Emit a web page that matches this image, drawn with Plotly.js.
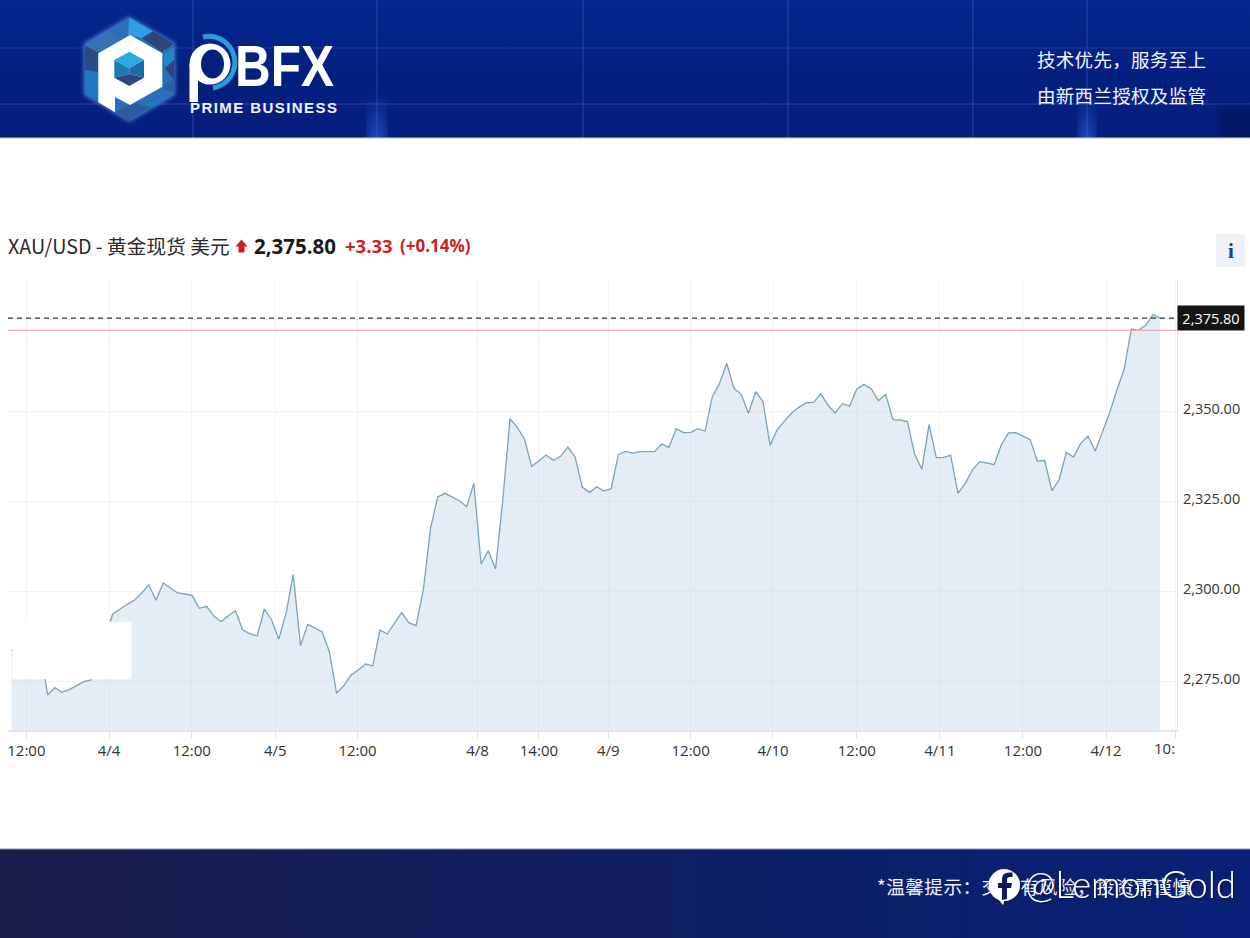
<!DOCTYPE html>
<html>
<head>
<meta charset="utf-8">
<script src="https://cdn.plot.ly/plotly-3.0.1.min.js"></script>
<style>
html, body { margin: 0; padding: 0; background: #fff; }
#page { position: relative; width: 1250px; height: 938px; overflow: hidden; }
#art, #chart { position: absolute; left: 0; top: 0; width: 1250px; height: 938px; }
</style>
</head>
<body>
<div id="page">
<svg id="art" width="1250" height="938" viewBox="0 0 1250 938">
  <defs>
    <linearGradient id="bannerBg" x1="0" y1="0" x2="0" y2="1">
      <stop offset="0" stop-color="#05268f"/>
      <stop offset="0.55" stop-color="#03207f"/>
      <stop offset="1" stop-color="#061f7f"/>
    </linearGradient>
    <linearGradient id="footBg" x1="0" y1="0" x2="1" y2="0">
      <stop offset="0" stop-color="#1b1d4a"/>
      <stop offset="0.66" stop-color="#0c2068"/>
      <stop offset="1" stop-color="#0a2078"/>
    </linearGradient>
    <linearGradient id="glow" x1="0" y1="0" x2="0" y2="1">
      <stop offset="0" stop-color="#2b62e0" stop-opacity="0"/>
      <stop offset="1" stop-color="#2b62e0" stop-opacity="0.7"/>
    </linearGradient>
    <clipPath id="bannerClip"><rect x="0" y="0" width="1250" height="138"/></clipPath>
    <filter id="soft"><feGaussianBlur stdDeviation="4"/></filter>
    <filter id="logoGlow"><feGaussianBlur stdDeviation="2"/></filter>
    <filter id="drop"><feDropShadow dx="1.5" dy="1.5" stdDeviation="0.6" flood-color="#10123a" flood-opacity="0.9"/></filter>
  </defs>

  <rect x="0" y="0" width="1250" height="138" fill="url(#bannerBg)"/>
  <g stroke="#7f9cf0" stroke-opacity="0.22" stroke-width="1.4">
    <line x1="193" y1="0" x2="193" y2="138"/>
    <line x1="377" y1="0" x2="377" y2="138"/>
    <line x1="583" y1="0" x2="583" y2="138"/>
    <line x1="788" y1="0" x2="788" y2="138"/>
    <line x1="973" y1="0" x2="973" y2="138"/>
    <line x1="1087" y1="0" x2="1087" y2="138"/>
    <line x1="0" y1="48" x2="1250" y2="48" stroke-opacity="0.13"/>
    <line x1="0" y1="104" x2="1250" y2="104"/>
  </g>
  <g clip-path="url(#bannerClip)">
    <rect x="368" y="95" width="18" height="50" fill="url(#glow)" filter="url(#soft)"/>
    <rect x="1079" y="95" width="16" height="50" fill="url(#glow)" filter="url(#soft)"/>
    <rect x="1220" y="108" width="35" height="40" fill="#04103f" opacity="0.45" filter="url(#soft)"/>
  </g>
  <line x1="0" y1="138" x2="1250" y2="138" stroke="#c6cde6" stroke-width="1"/>

  <!-- logo -->
  <polygon points="129.3,16.7 175,43.3 175,95 129.3,121.7 84,95 84,43.3" fill="#6fa4f0" opacity="0.7" filter="url(#logoGlow)"/>
  <polygon points="129.3,17.5 174,44 174,94 129.3,120.5 85,94 85,44" fill="#2a6fb8"/>
  <polygon points="129.3,17.5 153,31.5 142,38 128,35" fill="#2e9fe0"/>
  <polygon points="153,31.5 174,44 162,52 142,38" fill="#2f4478"/>
  <polygon points="163,55 174,48 174,70 165,68" fill="#1d86cf"/>
  <polygon points="165,68 174,60 174,80" fill="#2f4478"/>
  <polygon points="162,87 174,78 174,94" fill="#2a5fa8"/>
  <polygon points="142,105 174,94 150,107" fill="#1f7bc4"/>
  <polygon points="85,44 108,30 118,40 98,54" fill="#3574b4"/>
  <polygon points="85,46 98,52 98,72 85,70" fill="#2c4a7e"/>
  <polygon points="85,70 98,72 98,100 85,94" fill="#1f78c6"/>
  <polygon points="115,112 129.3,120.5 150,107 133,103" fill="#2f5a9e"/>
  <polygon points="130,35 162.3,53.3 162.3,86.7 130,105 115,97 115,112.3 98.3,102.3 98.3,53.3" fill="#fff"/>
  <polygon points="129.3,51.7 144,60 129.3,68.3 114.3,60" fill="#2aa9e2"/>
  <polygon points="114.3,60 129.3,68.3 129.3,74 114.3,77.7" fill="#1a7cb6"/>
  <polygon points="144,60 144,77.7 129.3,74 129.3,68.3" fill="#1b6ea8"/>
  <polygon points="114.3,77.7 129.3,74 144,77.7 129.3,86" fill="#2c4488"/>

  <!-- PBFX wordmark -->
  <path d="M 203 37 A 26 26 0 1 1 213 88" fill="none" stroke="#2a9bdc" stroke-width="5"/>
  <circle cx="210" cy="64" r="20.5" fill="#fff"/>
  <ellipse cx="212.5" cy="64" rx="11.5" ry="14.5" fill="#04217f"/>
  <rect x="189.5" y="64" width="8.5" height="38" fill="#fff"/>
  <text x="235" y="86" font-family="Liberation Sans" font-weight="bold" font-size="57" fill="#fff" textLength="99" lengthAdjust="spacingAndGlyphs">BFX</text>
  <text x="190" y="113" font-family="Liberation Sans" font-weight="bold" font-size="15" fill="#eef3ff" textLength="147">PRIME BUSINESS</text>

  <!-- banner right -->
  <g font-family="Noto Sans CJK SC" font-size="18.5" fill="#f2f5ff">
    <text x="1037" y="67" textLength="169">技术优先，服务至上</text>
    <text x="1037" y="103" textLength="169">由新西兰授权及监管</text>
  </g>

  <!-- price arrow and info button -->
  <path d="M 241.5 239.5 L 247.5 246.5 L 244.5 246.5 L 244.5 252.5 L 238.5 252.5 L 238.5 246.5 L 235.5 246.5 Z" fill="#cc1f1a"/>
  <rect x="1216" y="234" width="29" height="33" fill="#eef1f5"/>

  <!-- footer -->
  <rect x="0" y="849" width="1250" height="89" fill="url(#footBg)"/>
  <line x1="0" y1="849" x2="1250" y2="849" stroke="#8d90c4" stroke-width="1"/>
  <text x="877" y="894" font-family="Noto Sans CJK SC" font-size="18.6" fill="#f2f4ff" textLength="314">*温馨提示：交易有风险，投资需谨慎</text>

  <!-- watermark -->
  <g filter="url(#drop)">
    <path d="M 1004 869 A 16 16 0 1 1 1004 901 L 1003 905 L 999 900 A 16 16 0 0 1 1004 869 Z" fill="#fff"/>
    <path d="M 1007 899 L 1007 888 L 1011 888 L 1012 883 L 1007 883 L 1007 880 Q 1007 877 1010 877 L 1012.5 877 L 1012.5 872.5 L 1009 872.5 Q 1002 872.5 1002 879 L 1002 883 L 998 883 L 998 888 L 1002 888 L 1002 900 Z" fill="#0c1c5c"/>
    <text x="1025" y="898" font-family="Lato" font-weight="300" font-size="38" fill="#fff" textLength="211" lengthAdjust="spacingAndGlyphs">@LemonGold</text>
  </g>
</svg>
<div id="chart"></div>
</div>

<script>
// closing prices (hidden part under the white patch is a guess)
var prices = [
  2283.61, 2283.0, 2282.5, 2283.0, 2283.6, 2271.11, 2273.15, 2271.86, 2272.60, 2273.71,
  2274.82, 2275.28, 2281.76, 2287.23, 2293.61, 2294.91, 2296.30, 2297.41, 2299.36, 2301.76,
  2297.41, 2302.23, 2300.93, 2299.45, 2299.17, 2298.80, 2295.19, 2295.74, 2293.06, 2291.48,
  2293.15, 2294.54, 2289.17, 2288.15, 2287.50, 2295.00, 2291.95, 2286.67, 2293.80, 2304.63,
  2284.82, 2290.74, 2289.73, 2288.61, 2283.15, 2271.58, 2273.71, 2276.67, 2278.06, 2279.73,
  2279.17, 2289.17, 2288.06, 2291.21, 2293.98, 2291.21, 2290.37, 2300.28, 2317.41, 2326.11,
  2327.13, 2326.11, 2325.09, 2323.42, 2329.91, 2307.50, 2311.20, 2306.11, 2325.28, 2347.87,
  2345.46, 2342.22, 2334.63, 2336.20, 2337.78, 2336.29, 2337.41, 2340.00, 2337.31, 2328.89,
  2327.41, 2328.98, 2327.78, 2328.42, 2337.87, 2338.79, 2338.33, 2338.70, 2338.70, 2338.70,
  2340.83, 2339.91, 2345.09, 2343.98, 2344.07, 2345.09, 2344.44, 2353.98, 2357.68, 2363.24,
  2356.29, 2354.63, 2349.35, 2355.37, 2352.68, 2340.46, 2344.91, 2347.31, 2349.53, 2351.02,
  2352.31, 2352.31, 2354.82, 2351.67, 2349.45, 2352.04, 2351.39, 2356.11, 2357.41, 2356.21,
  2352.87, 2354.63, 2347.59, 2347.50, 2347.04, 2338.06, 2333.80, 2346.21, 2337.04, 2337.13,
  2337.69, 2327.13, 2329.91, 2333.61, 2335.93, 2335.56, 2335.09, 2340.56, 2343.89, 2343.98,
  2342.97, 2342.04, 2336.02, 2336.30, 2327.87, 2330.84, 2338.52, 2337.22, 2341.02, 2343.06,
  2338.89, 2344.26, 2349.54, 2355.84, 2361.58, 2372.78, 2372.41, 2373.89, 2376.76, 2375.80
];
var barIndex = prices.map(function (p, i) { return i; });

// the axis runs on bar number, so ticks sit where the labels are in the picture
var tickBars = [2.06, 13.5, 24.95, 36.5, 47.9, 64.5, 73.0, 82.6, 94.0, 105.4, 117.0, 128.5, 140.0, 151.5, 161.1];
var tickLabels = ["12:00", "4/4", "12:00", "4/5", "12:00", "4/8", "14:00", "4/9", "12:00", "4/10", "12:00", "4/11", "12:00", "4/12", ""];
var priceTicks = [2275, 2300, 2325, 2350];
var lastPrice = 2375.80;
var prevClose = 2372.40;

var plotLeft = 8, plotRight = 1176.7, plotTop = 280, plotBottom = 730;
function paperX(px) { return (px - plotLeft) / (plotRight - plotLeft); }
function paperY(py) { return (plotBottom - py) / (plotBottom - plotTop); }

function label(text, px, py, size, color, family, anchor) {
  return {
    text: text, xref: "paper", yref: "paper", x: paperX(px), y: paperY(py),
    xanchor: anchor || "left", yanchor: "middle", showarrow: false, borderpad: 0,
    font: { size: size, color: color, family: family }
  };
}

var cjk = "Noto Sans CJK SC", latin = "Open Sans";

var annotations = [
  label("XAU/USD - 黄金现货 美元", 7.5, 246, 19.7, "#2a2a2a", cjk),
  label("<b>2,375.80</b>", 253, 246, 20.5, "#1a1a1a", latin),
  label("<b>+3.33</b>", 343.5, 245, 18.5, "#c8231c", latin),
  label("<b>(+0.14%)</b>", 399, 245, 17, "#c8231c", latin),
  label("<b>i</b>", 1230.5, 251, 21, "#12447f", "Liberation Serif", "center"),
  label("10:", 1176, 748, 15, "#333", latin, "right"),
  {
    text: lastPrice.toLocaleString("en-US", { minimumFractionDigits: 2 }),
    xref: "paper", yref: "y", x: 1, y: lastPrice, xanchor: "left", yanchor: "middle",
    showarrow: false, bgcolor: "#141414", width: 66, height: 24, borderpad: 0,
    font: { size: 14.5, color: "#fff", family: latin }
  }
];

var shapes = [
  { type: "line", xref: "paper", yref: "y", x0: 0, x1: 1, y0: prevClose, y1: prevClose, line: { color: "#e8b0b0", width: 1.2 } },
  { type: "line", xref: "paper", yref: "y", x0: 0, x1: 1, y0: lastPrice, y1: lastPrice, line: { color: "#333", width: 1.3, dash: "5px,4px" } },
  // white patch over the left part of the line, as in the source picture
  { type: "rect", layer: "above", xref: "paper", yref: "paper", x0: paperX(12.3), x1: paperX(131.3), y0: paperY(679.3), y1: paperY(621.7), fillcolor: "#fff", line: { width: 0 } }
];

Plotly.newPlot("chart", [
  {
    x: barIndex,
    y: prices,
    type: "scatter",
    mode: "lines",
    fill: "tozeroy",
    fillcolor: "rgba(195,215,233,0.45)",
    line: { color: "#7aa3b8", width: 1.3 },
    hoverinfo: "skip"
  }
], {
  width: 1250,
  height: 938,
  margin: { l: plotLeft, r: 1250 - plotRight, t: plotTop, b: 938 - plotBottom, pad: 0 },
  paper_bgcolor: "rgba(0,0,0,0)",
  plot_bgcolor: "rgba(0,0,0,0)",
  showlegend: false,
  font: { family: latin, size: 15, color: "#333" },
  xaxis: {
    type: "linear",
    range: [-0.485, 161.32],
    tickmode: "array",
    tickvals: tickBars,
    ticktext: tickLabels,
    ticks: "outside",
    ticklen: 6,
    tickcolor: "#e0e0e0",
    gridcolor: "#f3f3f3",
    showline: true,
    linecolor: "#e2e6ea",
    linewidth: 1.5,
    zeroline: false,
    tickangle: 0
  },
  yaxis: {
    side: "right",
    range: [2261.39, 2386.39],
    tickmode: "array",
    tickvals: priceTicks,
    tickformat: ",.2f",
    tickfont: { family: latin, size: 14.5, color: "#333" },
    ticks: "",
    ticklabelstandoff: 2,
    ticklabelshift: -2,
    gridcolor: "#f3f3f3",
    showline: true,
    linecolor: "#e2e2e2",
    linewidth: 1,
    zeroline: false
  },
  annotations: annotations,
  shapes: shapes
}, { displayModeBar: false });
</script>
</body>
</html>
